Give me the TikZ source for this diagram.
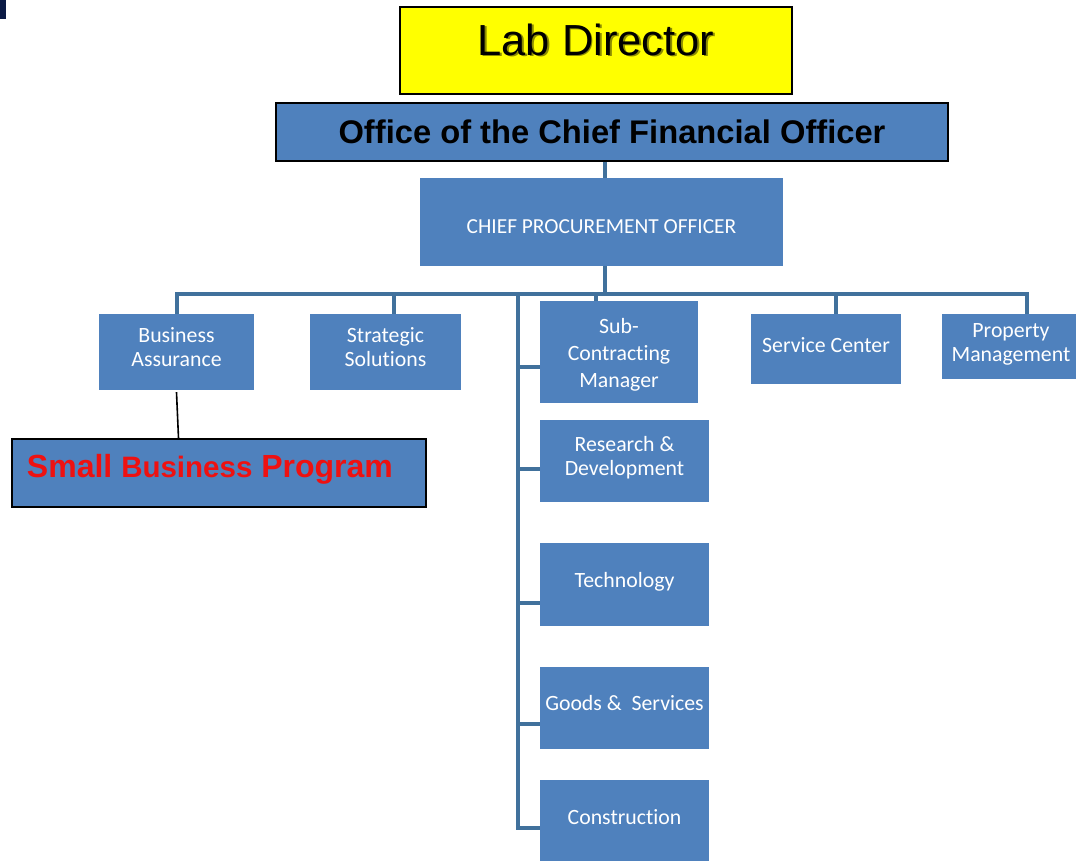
\documentclass[tikz,border=0pt]{standalone}
\usepackage{fontspec}
\setmainfont{Carlito}[Ligatures=NoCommon]
\newfontfamily\arialf{Liberation Sans}
\definecolor{boxblue}{HTML}{4F81BD}
\definecolor{connblue}{HTML}{41719C}
\definecolor{navy}{HTML}{0B1A45}
\definecolor{sbred}{HTML}{EE1111}
\definecolor{ldyellow}{HTML}{FFFF00}
\newcommand\lift[2][2pt]{\raisebox{#1}[\height][\depth]{\begin{tabular}{@{}c@{}}#2\end{tabular}}}
\begin{document}
\begin{tikzpicture}[x=1pt,y=-1pt,
  box/.style={rectangle, fill=boxblue, draw=none, inner sep=0pt, text=white,
    font=\fontsize{21.8}{24}\selectfont},
  framed/.style={rectangle, draw=black, line width=2pt, inner sep=0pt},
  conn/.style={draw=connblue, line width=4pt},
  thinconn/.style={draw=black, line width=1.6pt}
]
\useasboundingbox (0,0) rectangle (1076,861);
\fill[navy] (0,0) rectangle (6,19);

% top boxes
\node[framed, fill=ldyellow, minimum width=392pt, minimum height=87pt,
  font=\arialf\fontsize{43.5}{48}\selectfont] (ld) at (596,50.5)
  {\lift[5pt]{\rlap{\kern1.8pt\raisebox{-1.8pt}{\color{black!45!ldyellow}Lab Director}}Lab Director}};
\node[framed, fill=boxblue, minimum width=672pt, minimum height=58pt,
  font=\arialf\bfseries\fontsize{32.7}{36}\selectfont] (cfo) at (612,132)
  {Office of the Chief Financial Officer};
\node[box, minimum width=363pt, minimum height=88pt, font=\fontsize{21.4}{24}\selectfont] (cpo) at (601.5,222)
  {\lift[-7pt]{CHIEF PROCUREMENT OFFICER}};

% second level
\node[box, minimum width=155pt, minimum height=76pt] (ba) at (176.5,352) {\lift{Business\\Assurance}};
\node[box, minimum width=151pt, minimum height=76pt] (ss) at (385.5,352) {\lift{Strategic\\Solutions}};
\node[box, minimum width=158pt, minimum height=102pt, font=\fontsize{21.8}{27}\selectfont] (sub) at (619,352) {\lift[-3pt]{Sub-\\Contracting\\Manager}};
\node[box, minimum width=150pt, minimum height=70pt] (sc) at (826,349) {\lift[1pt]{Service Center}};
\node[box, minimum width=138pt, minimum height=65pt] (pm) at (1011,346.5) {\lift{Property\\Management}};

% column
\node[box, minimum width=169pt, minimum height=82pt] (rd) at (624.5,461) {\lift{Research \&\\Development}};
\node[box, minimum width=169pt, minimum height=83pt] (tech) at (624.5,584.5) {\lift{Technology}};
\node[box, minimum width=169pt, minimum height=82pt] (goods) at (624.5,708) {\lift{Goods \&\ \ Services}};
\node[box, minimum width=169pt, minimum height=82pt] (con) at (624.5,821) {\lift[1pt]{Construction}};

% small business
\node[framed, fill=boxblue, minimum width=414pt, minimum height=68pt,
  font=\arialf\bfseries\fontsize{32}{36}\selectfont, text=sbred] (sbp) at (219,473)
  {\makebox[410pt][l]{\hspace{13pt}\lift[3pt]{Small {\fontsize{29.5}{34}\selectfont Business} Program}}};

% connectors
\coordinate (bus) at (605,294);
\coordinate (trunk) at (518,294);
\draw[conn] ([xshift=-7pt]cfo.south) -- ([xshift=-7pt]cfo.south |- cpo.north);
\draw[conn] ([xshift=3.5pt]cpo.south) -- (bus);
\draw[conn] (ba.north) -- (ba.north |- bus) -- ([xshift=16pt]pm.north |- bus) -- ([xshift=16pt]pm.north);
\draw[conn] ([xshift=8.5pt]ss.north |- bus) -- ([xshift=8.5pt]ss.north);
\draw[conn] ([xshift=-23pt]sub.north |- bus) -- ([xshift=-23pt]sub.north);
\draw[conn] ([xshift=10pt]sc.north |- bus) -- ([xshift=10pt]sc.north);
\draw[conn] (trunk) |- ([yshift=-7pt]con.west);
\draw[conn] ([yshift=-15pt]sub.west) -- ++(-22,0);
\draw[conn] ([yshift=-8pt]rd.west) -- ++(-22,0);
\draw[conn] ([yshift=-18.5pt]tech.west) -- ++(-22,0);
\draw[conn] ([yshift=-16pt]goods.west) -- ++(-22,0);
\draw[thinconn] ([yshift=-2pt]ba.south) -- ([xshift=2pt]ba.south |- sbp.north);
\end{tikzpicture}
\end{document}
